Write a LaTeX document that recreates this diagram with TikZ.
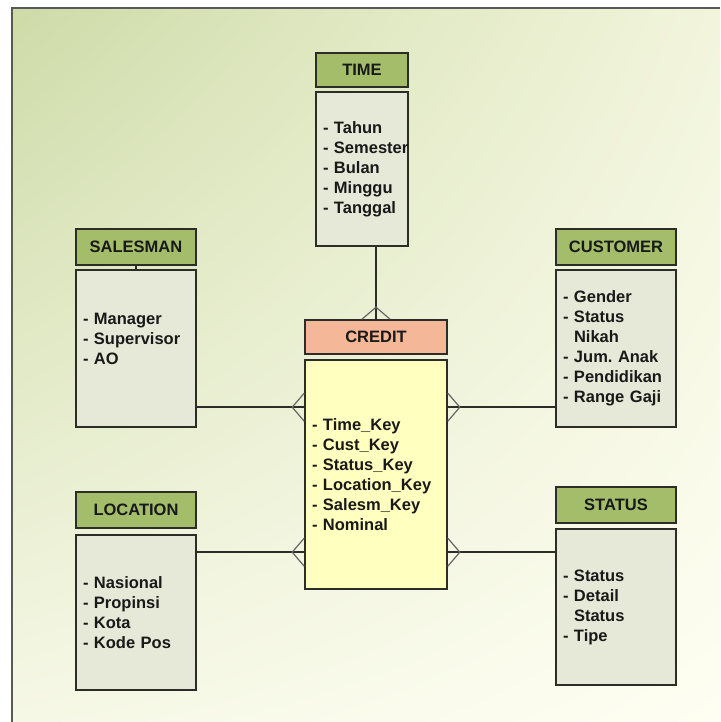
\documentclass[tikz,border=0pt]{standalone}
\usepackage{fontspec}
\setmainfont{Liberation Sans}
\usepackage{xcolor}
\definecolor{erhead}{RGB}{163,189,106}
\definecolor{erbody}{RGB}{230,233,215}
\definecolor{erfacthead}{RGB}{244,184,152}
\definecolor{erfactbody}{RGB}{255,255,192}
\definecolor{erline}{RGB}{45,45,40}
\definecolor{bgtl}{RGB}{206,219,168}
\definecolor{bgtr}{RGB}{242,245,220}
\definecolor{bgbl}{RGB}{246,248,230}
\definecolor{bgbr}{RGB}{254,254,242}
\usetikzlibrary{calc,shadings}
\frenchspacing

\begin{document}
\begin{tikzpicture}[x=1pt,y=1pt,
  headbox/.style={draw=erline,line width=1.6pt,fill=erhead,inner sep=0pt,
        font=\fontsize{16.5}{20}\selectfont\bfseries,text=black!90},
  bodybox/.style={draw=erline,line width=1.6pt,fill=erbody,inner xsep=7pt,inner ysep=0pt,
        align=left,font=\fontsize{16.5}{20}\selectfont\bfseries,text=black!90},
  link/.style={draw=erline,line width=1.5pt},
  crowline/.style={draw=black!60,line width=1.2pt},
  crowfoot/.pic={\draw[crowline] (0,14) -- (-12,0) -- (0,-14);}]
  \useasboundingbox (0,0) rectangle (720,722);
  % Background frame
  \shade[upper left=bgtl,upper right=bgtr,lower left=bgbl,lower right=bgbr]
        (12,0) rectangle (720,714);
  \draw[draw=black!65,line width=2pt] (12,0) -- (12,714) -- (720,714);
  % TIME
  \node[headbox,minimum width=92pt,minimum height=34pt] (timehead) at (362,652) {TIME};
  \node[bodybox,text width=78pt,minimum height=154pt] (timebody) at (362,553)
        {-~Tahun\\\mbox{-~Semester}\\-~Bulan\\-~Minggu\\-~Tanggal};
  % SALESMAN
  \node[headbox,minimum width=120pt,minimum height=36pt] (saleshead) at (136,475) {SALESMAN};
  \node[bodybox,text width=106pt,minimum height=157pt] (salesbody) at (136,373.5)
        {-~Manager\\-~Supervisor\\-~AO\\ \mbox{}};
  % CUSTOMER
  \node[headbox,minimum width=120pt,minimum height=36pt] (custhead) at (616,475) {CUSTOMER};
  \node[bodybox,text width=106pt,minimum height=157pt] (custbody) at (616,373.5)
        {-~Gender\\-~Status\\\phantom{-~}Nikah\\-~Jum.~Anak\\-~Pendidikan\\-~Range~Gaji};
  % CREDIT
  \node[headbox,fill=erfacthead,minimum width=142pt,minimum height=34pt] (credithead) at (376,385) {CREDIT};
  \node[bodybox,fill=erfactbody,text width=128pt,minimum height=229pt] (creditbody) at (376,247.5)
        {-~Time\_Key\\-~Cust\_Key\\-~Status\_Key\\-~Location\_Key\\-~Salesm\_Key\\-~Nominal};
  % LOCATION
  \node[headbox,minimum width=120pt,minimum height=36pt] (lochead) at (136,212) {LOCATION};
  \node[bodybox,text width=106pt,minimum height=155pt] (locbody) at (136,109.5)
        {-~Nasional\\-~Propinsi\\-~Kota\\-~Kode~Pos};
  % STATUS
  \node[headbox,minimum width=120pt,minimum height=36pt] (stathead) at (616,217) {STATUS};
  \node[bodybox,text width=106pt,minimum height=156pt] (statbody) at (616,115)
        {-~Status\\-~Detail\\\phantom{-~}Status\\-~Tipe};
  % Links
  \draw[link] (saleshead) -- (salesbody);
  \draw[link] (timebody.south -| credithead.north) -- (credithead.north);
  \pic[rotate=-90] at (credithead.north) {crowfoot};
  \coordinate (salesjoin) at ([yshift=-48pt]creditbody.north west);
  \coordinate (custjoin) at ([yshift=-48pt]creditbody.north east);
  \coordinate (locjoin) at ([yshift=-193pt]creditbody.north west);
  \coordinate (statjoin) at ([yshift=-193pt]creditbody.north east);
  \draw[link] (salesjoin) -- (salesjoin -| salesbody.east);
  \draw[link] (custjoin) -- (custjoin -| custbody.west);
  \draw[link] (locjoin) -- (locjoin -| locbody.east);
  \draw[link] (statjoin) -- (statjoin -| statbody.west);
  \pic at (salesjoin) {crowfoot};
  \pic at (locjoin) {crowfoot};
  \pic[rotate=180] at (custjoin) {crowfoot};
  \pic[rotate=180] at (statjoin) {crowfoot};
\end{tikzpicture}
\end{document}
